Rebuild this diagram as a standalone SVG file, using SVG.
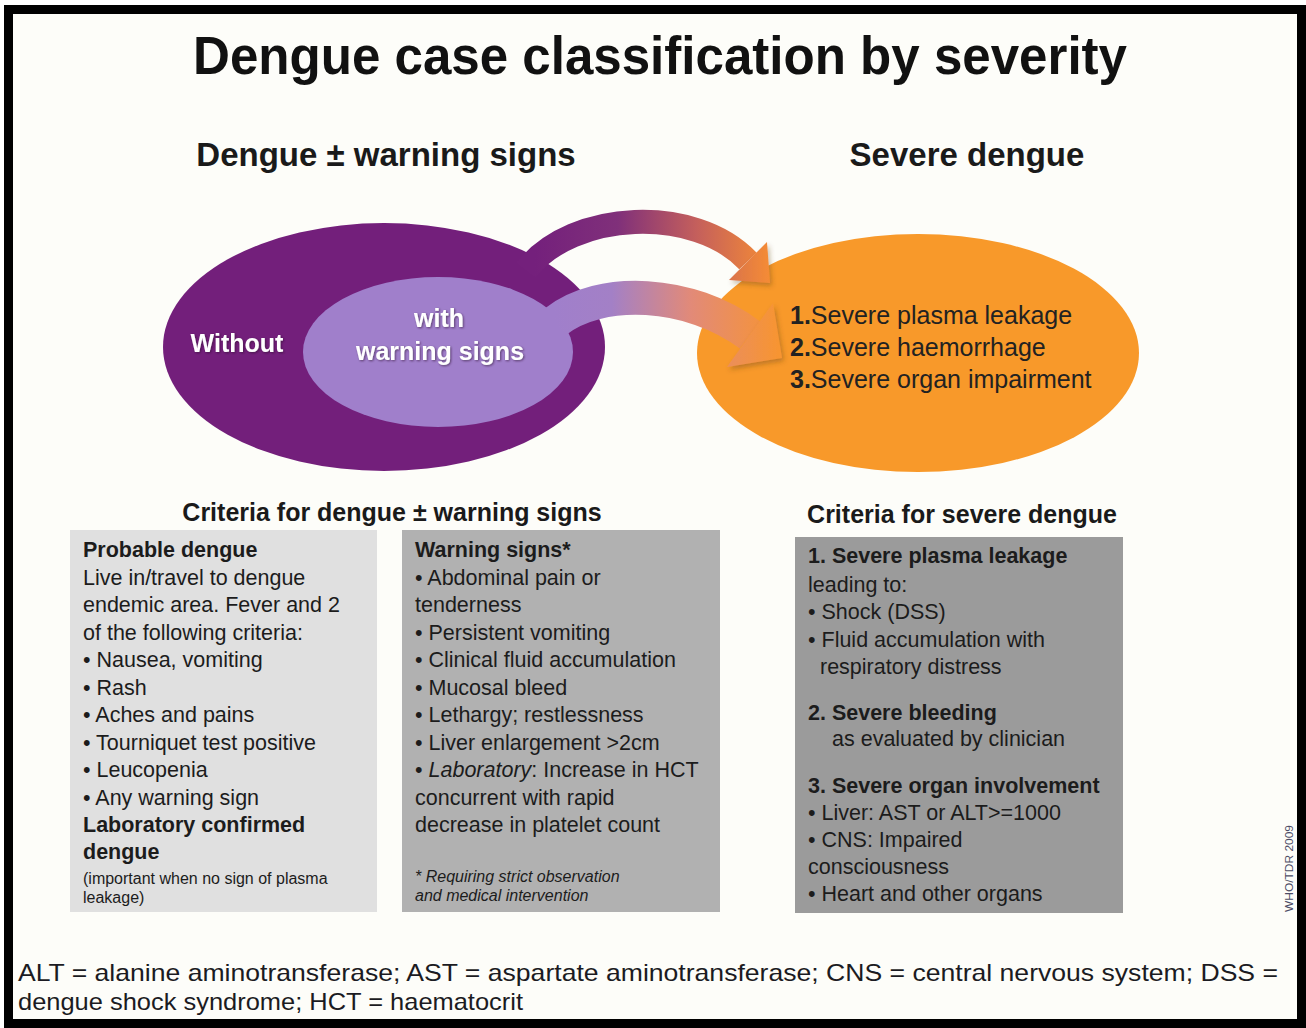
<svg xmlns="http://www.w3.org/2000/svg" width="1306" height="1028" viewBox="0 0 1306 1028">
  <style>
    text { font-family: "Liberation Sans", Arial, sans-serif; fill: #1c1c1c; }
    .title { font-size: 54px; font-weight: bold; fill: #111; }
    .head { font-size: 33px; font-weight: bold; fill: #1a1a1a; }
    .crit { font-size: 25px; font-weight: bold; fill: #1a1a1a; }
    .inwhite { font-size: 25px; font-weight: bold; fill: #ffffff; }
    .sev { font-size: 25px; fill: #222; }
    .box { font-size: 21.5px; }
    .b { font-weight: bold; }
    .note { font-size: 16px; }
    .it { font-style: italic; }
    .foot { font-size: 24px; fill: #1b1b22; }
    .credit { font-size: 11px; fill: #4d4d66; }
  </style>
  <defs>
    <linearGradient id="gradUpper" gradientUnits="userSpaceOnUse" x1="535" y1="0" x2="772" y2="0">
      <stop offset="0" stop-color="#74207c"/>
      <stop offset="0.35" stop-color="#80307a"/>
      <stop offset="0.68" stop-color="#c45f5c"/>
      <stop offset="1" stop-color="#f68d34"/>
    </linearGradient>
    <linearGradient id="gradLower" gradientUnits="userSpaceOnUse" x1="555" y1="0" x2="782" y2="0">
      <stop offset="0" stop-color="#a07fcb"/>
      <stop offset="0.25" stop-color="#a380c6"/>
      <stop offset="0.6" stop-color="#e28a78"/>
      <stop offset="1" stop-color="#f8952f"/>
    </linearGradient>
    <filter id="softShadow" x="-20%" y="-20%" width="150%" height="150%">
      <feDropShadow dx="2" dy="3" stdDeviation="2.5" flood-color="#5a3a20" flood-opacity="0.35"/>
    </filter>
    <filter id="textShadow" x="-5%" y="-10%" width="110%" height="130%">
      <feDropShadow dx="1" dy="1" stdDeviation="0.8" flood-color="#2a0a2e" flood-opacity="0.6"/>
    </filter>
  </defs>

  <!-- page background and frame -->
  <rect x="0" y="0" width="1306" height="1028" fill="#ffffff"/>
  <rect x="8.5" y="9.5" width="1293" height="1014" fill="#fdfdf9" stroke="#000" stroke-width="9"/>

  <!-- headings -->
  <g id="title">
    <text class="title" x="660" y="74" text-anchor="middle" textLength="934" lengthAdjust="spacingAndGlyphs">Dengue case classification by severity</text>
  </g>
  <g id="heading-left">
    <text class="head" x="386" y="166" text-anchor="middle">Dengue ± warning signs</text>
  </g>
  <g id="heading-right">
    <text class="head" x="967" y="166" text-anchor="middle">Severe dengue</text>
  </g>

  <!-- dengue with / without warning signs -->
  <g id="node-dengue">
    <ellipse cx="384" cy="347" rx="221" ry="124" fill="#731f7b"/>
    <ellipse cx="438" cy="352" rx="135" ry="75" fill="#a07fcb"/>
    <text class="inwhite" x="237" y="352" text-anchor="middle" filter="url(#textShadow)">Without</text>
    <text class="inwhite" x="439" y="327" text-anchor="middle" filter="url(#textShadow)">with</text>
    <text class="inwhite" x="440" y="360" text-anchor="middle" filter="url(#textShadow)">warning signs</text>
  </g>

  <!-- severe dengue -->
  <g id="node-severe">
    <ellipse cx="918" cy="353" rx="221" ry="119" fill="#f8992a"/>
    <text class="sev" x="790" y="324"><tspan class="b">1.</tspan>Severe plasma leakage</text>
    <text class="sev" x="790" y="356"><tspan class="b">2.</tspan>Severe haemorrhage</text>
    <text class="sev" x="790" y="388"><tspan class="b">3.</tspan>Severe organ impairment</text>
  </g>

  <!-- curved arrows into severe dengue; the heads carry a soft shadow -->
  <g id="connectors">
    <g id="arrow-without">
      <path d="M526 270 C573 210 695 205 748 261" fill="none" stroke="url(#gradUpper)" stroke-width="24"/>
      <polygon points="729,280 767,242 770,283" fill="url(#gradUpper)" filter="url(#softShadow)"/>
    </g>
    <g id="arrow-with">
      <path d="M555 322 C600 286 690 290 750 335" fill="none" stroke="url(#gradLower)" stroke-width="34"/>
      <polygon points="727,367 773,303 782,358" fill="url(#gradLower)" filter="url(#softShadow)"/>
    </g>
  </g>

  <!-- criteria headings -->
  <text class="crit" x="392" y="521" text-anchor="middle">Criteria for dengue ± warning signs</text>
  <text class="crit" x="962" y="523" text-anchor="middle">Criteria for severe dengue</text>

  <!-- probable dengue box -->
  <g id="box-probable">
    <rect x="70" y="530" width="307" height="382" fill="#e0e0e0"/>
    <text class="box b" x="83" y="557">Probable dengue</text>
    <text class="box" x="83" y="585">Live in/travel to dengue</text>
    <text class="box" x="83" y="612">endemic area. Fever and 2</text>
    <text class="box" x="83" y="640">of the following criteria:</text>
    <text class="box" x="83" y="667">• Nausea, vomiting</text>
    <text class="box" x="83" y="695">• Rash</text>
    <text class="box" x="83" y="722">• Aches and pains</text>
    <text class="box" x="83" y="750">• Tourniquet test positive</text>
    <text class="box" x="83" y="777">• Leucopenia</text>
    <text class="box" x="83" y="805">• Any warning sign</text>
    <text class="box b" x="83" y="832">Laboratory confirmed</text>
    <text class="box b" x="83" y="859">dengue</text>
    <text class="note" x="83" y="884">(important when no sign of plasma</text>
    <text class="note" x="83" y="903">leakage)</text>
  </g>

  <!-- warning signs box -->
  <g id="box-warning">
    <rect x="402" y="530" width="318" height="382" fill="#b1b1b1"/>
    <text class="box b" x="415" y="557">Warning signs*</text>
    <text class="box" x="415" y="585">• Abdominal pain or</text>
    <text class="box" x="415" y="612">tenderness</text>
    <text class="box" x="415" y="640">• Persistent vomiting</text>
    <text class="box" x="415" y="667">• Clinical fluid accumulation</text>
    <text class="box" x="415" y="695">• Mucosal bleed</text>
    <text class="box" x="415" y="722">• Lethargy; restlessness</text>
    <text class="box" x="415" y="750">• Liver enlargement &gt;2cm</text>
    <text class="box" x="415" y="777">• <tspan class="it">Laboratory</tspan>: Increase in HCT</text>
    <text class="box" x="415" y="805">concurrent with rapid</text>
    <text class="box" x="415" y="832">decrease in platelet count</text>
    <text class="note it" x="415" y="882">* Requiring strict observation</text>
    <text class="note it" x="415" y="901">and medical intervention</text>
  </g>

  <!-- severe dengue criteria box -->
  <g id="box-severe">
    <rect x="795" y="537" width="328" height="376" fill="#9b9b9b"/>
    <text class="box b" x="808" y="563">1. Severe plasma leakage</text>
    <text class="box" x="808" y="592">leading to:</text>
    <text class="box" x="808" y="619">• Shock (DSS)</text>
    <text class="box" x="808" y="647">• Fluid accumulation with</text>
    <text class="box" x="820" y="674">respiratory distress</text>
    <text class="box b" x="808" y="720">2. Severe bleeding</text>
    <text class="box" x="832" y="746">as evaluated by clinician</text>
    <text class="box b" x="808" y="793">3. Severe organ involvement</text>
    <text class="box" x="808" y="820">• Liver: AST or ALT&gt;=1000</text>
    <text class="box" x="808" y="847">• CNS: Impaired</text>
    <text class="box" x="808" y="874">consciousness</text>
    <text class="box" x="808" y="901">• Heart and other organs</text>
  </g>

  <!-- source credit -->
  <text class="credit" transform="translate(1293,912) rotate(-90)" textLength="87" lengthAdjust="spacingAndGlyphs">WHO/TDR 2009</text>

  <!-- abbreviations -->
  <g id="footer">
    <text class="foot" x="18" y="981" textLength="1260" lengthAdjust="spacingAndGlyphs">ALT = alanine aminotransferase; AST = aspartate aminotransferase; CNS = central nervous system; DSS =</text>
    <text class="foot" x="18" y="1010" textLength="505" lengthAdjust="spacingAndGlyphs">dengue shock syndrome; HCT = haematocrit</text>
  </g>
</svg>
